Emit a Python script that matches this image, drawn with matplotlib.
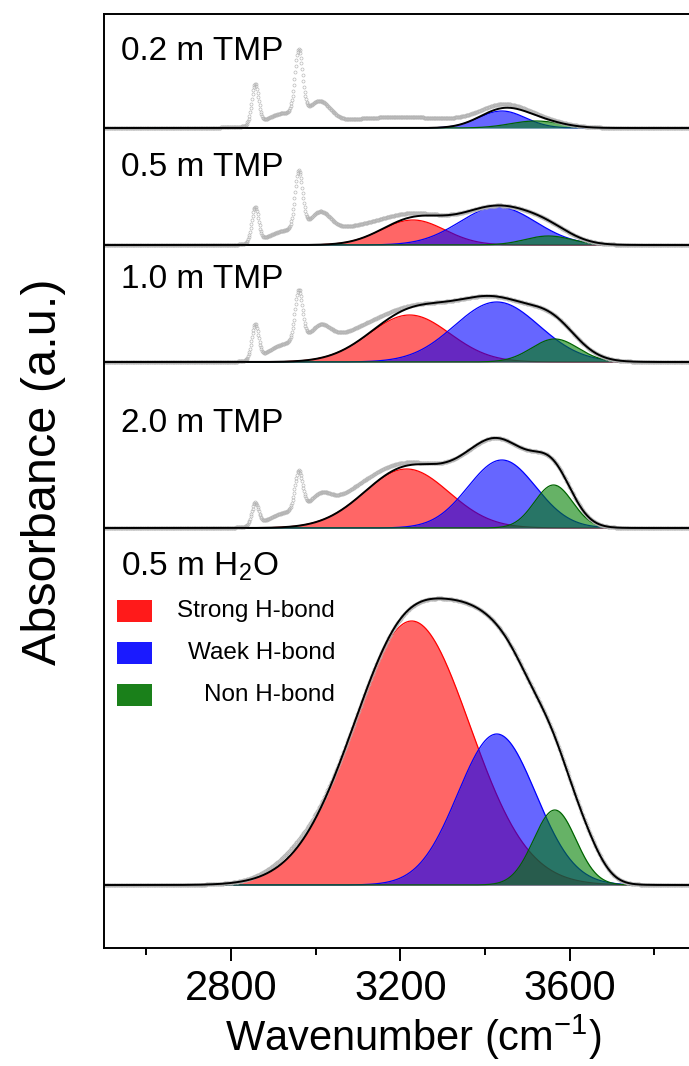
import numpy as np
import matplotlib
matplotlib.use('Agg')
import matplotlib.pyplot as plt
from matplotlib.patches import Rectangle

plt.rcParams['font.family'] = ['Liberation Sans', 'DejaVu Sans']
plt.rcParams['mathtext.fontset'] = 'custom'
plt.rcParams['mathtext.rm'] = 'Liberation Sans'

# ---- data (heights in arbitrary absorbance units) ----
labels = ['0.2 m TMP', '0.5 m TMP', '1.0 m TMP', '2.0 m TMP', r'0.5 m H$\mathregular{_2}$O']
offsets = [820, 703, 586, 420, 63]

strong_center = [3230, 3230, 3222, 3215, 3227]
strong_height = [0, 25, 47, 59, 264]
strong_width = [80, 75, 95, 100, 137]

weak_center = [3440, 3430, 3428, 3440, 3428]
weak_height = [17, 38, 60, 68, 151]
weak_width = [55, 90, 100, 80, 92]

non_center = [3520, 3550, 3565, 3562, 3565]
non_height = [7, 9, 23, 43, 75]
non_width = [60, 55, 55, 45, 50]

# extra (unshaded) terms in the fitted envelope
fit_extra_panel = [3, 4, 4]
fit_extra_center = [3400, 3480, 3640]
fit_extra_height = [17, 30, 22]
fit_extra_width = [90, 50, 40]

# C-H bands of TMP seen only in the measured spectra
ch_center = [2857, 2960, 2925, 3010]
ch_width = [8, 9, 40, 25]
ch_height = [[40, 64, 12, 20],
             [35, 58, 11, 21],
             [34, 52, 14, 19],
             [22, 39, 10, 15],
             [0, 0, 0, 0]]
plateau_center = [3200, 3080, 3060, 3060, 2950]
plateau_width = [170, 90, 80, 90, 60]
plateau_height = [11, 15, 16, 14, 6]

legend_names = ['Strong H-bond', 'Waek H-bond', 'Non H-bond']
legend_colors = ['#ff1a1a', '#1a1aff', '#1a801a']

wn = np.arange(2500, 3961, 1.5)


def gauss(x, c, h, w):
    return h * np.exp(-(x - c) ** 2 / (2.0 * w ** 2))


fig = plt.figure(figsize=(6.89, 10.66), dpi=100)
# the right part of the frame lies outside the picture, as in the original
ax = fig.add_axes([104 / 689, 1 - 948 / 1066, 618 / 689, 934 / 1066])

label_y = [896, 781, 668, 525, 381]

for i in range(len(labels)):
    base = offsets[i]
    red = gauss(wn, strong_center[i], strong_height[i], strong_width[i])
    blue = gauss(wn, weak_center[i], weak_height[i], weak_width[i])
    green = gauss(wn, non_center[i], non_height[i], non_width[i])
    fit = red + blue + green
    for k in range(len(fit_extra_panel)):
        if fit_extra_panel[k] == i:
            fit = fit + gauss(wn, fit_extra_center[k], fit_extra_height[k], fit_extra_width[k])
    meas = fit + gauss(wn, plateau_center[i], plateau_height[i], plateau_width[i])
    for k in range(len(ch_center)):
        meas = meas + gauss(wn, ch_center[k], ch_height[i][k], ch_width[k])

    if strong_height[i] > 0:
        ax.fill_between(wn, base, base + red, color='red', alpha=0.6, lw=0, zorder=1)
        ax.plot(wn, base + red, color='red', lw=0.9, zorder=1.1)
    ax.fill_between(wn, base, base + blue, color='blue', alpha=0.6, lw=0, zorder=1.2)
    ax.plot(wn, base + blue, color='blue', lw=0.9, zorder=1.3)
    ax.fill_between(wn, base, base + green, color='green', alpha=0.6, lw=0, zorder=1.4)
    ax.plot(wn, base + green, color='#006400', lw=0.9, zorder=1.5)

    ax.plot(wn, base + meas, 'o', ms=2.2, mfc='none', mec='#b4b4b4', mew=0.45, zorder=2)
    ax.plot(wn, base + fit, color='black', lw=1.4, zorder=3)

    ax.text(2540, label_y[i], labels[i], fontsize=24, va='center', ha='left')

ax.set_xlim(2500, 3960)
ax.set_ylim(0, 934)
ax.set_yticks([])
ax.set_xticks([2800, 3200, 3600])
ax.set_xticks([2600, 3000, 3400, 3800], minor=True)
ax.tick_params(axis='x', which='major', direction='out', length=9.4, width=1.4, labelsize=30, pad=6)
ax.tick_params(axis='x', which='minor', direction='out', length=5, width=1.4)
for s in ax.spines.values():
    s.set_linewidth(1.4)
ax.set_xlabel(r'Wavenumber (cm$\mathregular{^{-1}}$)', fontsize=30, labelpad=2)
ax.set_ylabel('Absorbance (a.u.)', fontsize=35)
ax.yaxis.set_label_coords(-0.062, 0.51)

# legend drawn by hand (right-aligned labels)
leg_y = [611, 653, 695]
for j in range(len(legend_names)):
    fig.add_artist(Rectangle((117 / 689, 1 - (leg_y[j] + 11) / 1066), 35 / 689, 22 / 1066,
                             transform=fig.transFigure, color=legend_colors[j], lw=0))
    fig.text(335 / 689, 1 - leg_y[j] / 1066, legend_names[j], fontsize=17.5,
             ha='right', va='center')

fig.savefig('out.png', dpi=100)
